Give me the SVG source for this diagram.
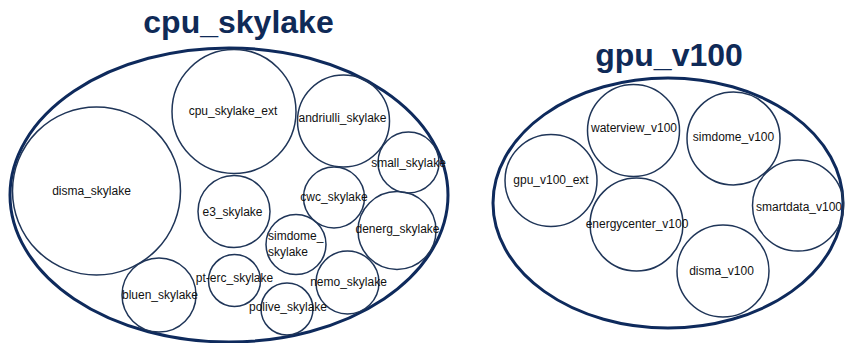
<svg xmlns="http://www.w3.org/2000/svg" width="845" height="343" viewBox="0 0 845 343">
<style>
.title{font-family:"Liberation Sans",Arial,sans-serif;font-weight:bold;font-size:32px;fill:#0F2A57;text-anchor:middle}
.group{fill:none;stroke:#0E2A5C;stroke-width:3}
.node{fill:none;stroke:#1F3558;stroke-width:1.5}
.lbl{font-family:"Liberation Sans",Arial,sans-serif;font-size:12px;fill:#111;text-anchor:middle}
.lbls{font-family:"Liberation Sans",Arial,sans-serif;font-size:12px;fill:#111;text-anchor:start}
</style>
<rect width="845" height="343" fill="#fff"/>
<g id="cpu_skylake">
<text class="title" x="238.5" y="33">cpu_skylake</text>
<ellipse class="group" cx="229" cy="195" rx="219" ry="147"/>
</g>
<g id="gpu_v100">
<text class="title" x="669" y="66">gpu_v100</text>
<ellipse class="group" cx="668" cy="203" rx="175" ry="125"/>
</g>
<g id="connectors"></g>
<g id="disma_skylake"><circle class="node" cx="96.5" cy="191" r="84"/><text class="lbl" x="91.5" y="195">disma_skylake</text></g>
<g id="cpu_skylake_ext"><circle class="node" cx="234" cy="111.5" r="62"/><text class="lbl" x="233" y="115">cpu_skylake_ext</text></g>
<g id="andriulli_skylake"><circle class="node" cx="343.5" cy="121" r="46"/><text class="lbl" x="342.5" y="122">andriulli_skylake</text></g>
<g id="small_skylake"><circle class="node" cx="408.5" cy="162.5" r="30.5"/><text class="lbl" x="408.5" y="167">small_skylake</text></g>
<g id="e3_skylake"><circle class="node" cx="234" cy="211.5" r="36"/><text class="lbl" x="232.5" y="216">e3_skylake</text></g>
<g id="cwc_skylake"><circle class="node" cx="334" cy="197.5" r="30.5"/><text class="lbl" x="334" y="201">cwc_skylake</text></g>
<g id="denerg_skylake"><circle class="node" cx="397" cy="230.5" r="39"/><text class="lbl" x="397.5" y="233">denerg_skylake</text></g>
<g id="simdome_skylake"><circle class="node" cx="296" cy="244.5" r="30"/><text class="lbls" x="268" y="240">simdome_</text><text class="lbls" x="268" y="256">skylake</text></g>
<g id="nemo_skylake"><circle class="node" cx="347.5" cy="282.5" r="31.5"/><text class="lbl" x="348.5" y="286">nemo_skylake</text></g>
<g id="pt-erc_skylake"><circle class="node" cx="234.5" cy="280.5" r="26"/><text class="lbl" x="234.5" y="282">pt-erc_skylake</text></g>
<g id="polive_skylake"><circle class="node" cx="287" cy="309" r="26"/><text class="lbl" x="288" y="311">polive_skylake</text></g>
<g id="bluen_skylake"><circle class="node" cx="159" cy="295" r="37"/><text class="lbl" x="160" y="299">bluen_skylake</text></g>
<g id="waterview_v100"><circle class="node" cx="633.5" cy="130.5" r="46"/><text class="lbl" x="634" y="132">waterview_v100</text></g>
<g id="simdome_v100"><circle class="node" cx="733.5" cy="138.5" r="46.5"/><text class="lbl" x="733.5" y="141">simdome_v100</text></g>
<g id="gpu_v100_ext"><circle class="node" cx="551" cy="180.5" r="46"/><text class="lbl" x="551" y="184">gpu_v100_ext</text></g>
<g id="energycenter_v100"><circle class="node" cx="636.5" cy="224.5" r="46.5"/><text class="lbl" x="637" y="228">energycenter_v100</text></g>
<g id="smartdata_v100"><circle class="node" cx="798" cy="205.5" r="45.5"/><text class="lbl" x="799" y="211">smartdata_v100</text></g>
<g id="disma_v100"><circle class="node" cx="723" cy="271" r="46"/><text class="lbl" x="721.5" y="275">disma_v100</text></g>
</svg>
